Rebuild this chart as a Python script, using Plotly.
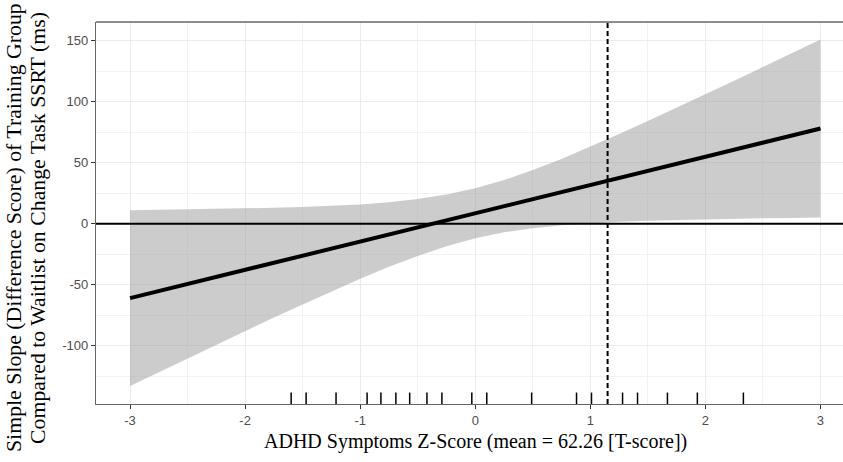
import plotly.graph_objects as go

# ---- data ----
x_grid = [-3.0, -2.75, -2.5, -2.25, -2.0, -1.75, -1.5, -1.25, -1.0, -0.75, -0.5, -0.25,
          0.0, 0.25, 0.5, 0.75, 1.0, 1.25, 1.5, 1.75, 2.0, 2.25, 2.5, 2.75, 3.0]
slope_est = [-61.0, -55.2, -49.4, -43.6, -37.8, -32.0, -26.3, -20.5, -14.7, -8.9, -3.1, 2.7,
             8.5, 14.3, 20.1, 25.9, 31.7, 37.5, 43.3, 49.0, 54.8, 60.6, 66.4, 72.2, 78.0]
ci_upper = [11.0, 11.3, 11.6, 12.0, 12.4, 13.0, 13.6, 14.6, 15.8, 17.6, 20.2, 23.9,
            29.0, 35.7, 43.9, 53.1, 63.0, 73.4, 84.1, 94.9, 106.0, 117.1, 128.4, 139.7, 151.0]
ci_lower = [-133.0, -121.7, -110.4, -99.2, -88.0, -77.0, -66.2, -55.6, -45.2, -35.4, -26.4, -18.5,
            -12.0, -7.1, -3.7, -1.3, 0.4, 1.6, 2.5, 3.1, 3.6, 4.1, 4.4, 4.7, 5.0]
rug_x = [-1.60, -1.47, -1.21, -0.94, -0.82, -0.69, -0.57, -0.42, -0.29, -0.03, 0.10,
         0.49, 0.88, 1.01, 1.28, 1.41, 1.67, 1.93, 2.33]
jn_point = 1.15
x_ticks = [-3, -2, -1, 0, 1, 2, 3]
x_tick_labels = ["-3", "-2", "-1", "0", "1", "2", "3"]
y_ticks = [-100, -50, 0, 50, 100, 150]
y_tick_labels = ["-100", "-50", "0", "50", "100", "150"]
x_title = "ADHD Symptoms Z-Score (mean = 62.26 [T-score])"
y_title_1 = "Simple Slope (Difference Score) of Training Group"
y_title_2 = "Compared to Waitlist on Change Task SSRT (ms)"

fig = go.Figure()

# confidence band
fig.add_trace(go.Scatter(x=x_grid, y=ci_upper, mode="lines", line=dict(width=0),
                         showlegend=False, hoverinfo="skip"))
fig.add_trace(go.Scatter(x=x_grid, y=ci_lower, mode="lines", line=dict(width=0),
                         fill="tonexty", fillcolor="rgba(153,153,153,0.5)",
                         showlegend=False, hoverinfo="skip"))

shapes = []
# top panel border
shapes.append(dict(type="line", xref="paper", yref="paper", x0=0, x1=1, y0=1, y1=1,
                   line=dict(color="#666666", width=1.3)))
# zero line
shapes.append(dict(type="line", xref="paper", yref="y", x0=0, x1=1, y0=0, y1=0,
                   line=dict(color="black", width=2)))
# Johnson-Neyman dashed line
shapes.append(dict(type="line", xref="x", yref="paper", x0=jn_point, x1=jn_point, y0=0, y1=1,
                   line=dict(color="black", width=2, dash="5px,3px")))
# rug
for rx in rug_x:
    shapes.append(dict(type="line", xref="x", yref="paper", x0=rx, x1=rx, y0=0, y1=0.03,
                       line=dict(color="black", width=1.5)))

# simple slope line
fig.add_trace(go.Scatter(x=x_grid, y=slope_est, mode="lines",
                         line=dict(color="black", width=4), showlegend=False))

# figure slightly wider than the window: the right panel edge is cropped as in the reference
W, H = 855, 462
L, R, T, B = 96, 0, 22, 58
pw = W - L - R
ph = H - T - B

def px_x(p):
    return (p - L) / pw

def px_y(p):
    return (H - B - p) / ph

annotations = [
    dict(text=x_title, xref="x", yref="paper", x=0.0, y=px_y(441), showarrow=False,
         xanchor="center", yanchor="middle",
         font=dict(family="Liberation Serif", size=20, color="black")),
    dict(text=y_title_1, xref="paper", yref="paper", x=px_x(14), y=px_y(228), showarrow=False,
         textangle=-90, xanchor="center", yanchor="middle",
         font=dict(family="Liberation Serif", size=21.8, color="black")),
    dict(text=y_title_2, xref="paper", yref="paper", x=px_x(38), y=px_y(228), showarrow=False,
         textangle=-90, xanchor="center", yanchor="middle",
         font=dict(family="Liberation Serif", size=21.8, color="black")),
]

fig.update_layout(
    width=W, height=H, autosize=False,
    margin=dict(l=L, r=R, t=T, b=B, pad=0),
    paper_bgcolor="white", plot_bgcolor="white",
    shapes=shapes, annotations=annotations,
    showlegend=False,
    font=dict(family="Liberation Sans", size=13, color="#4d4d4d"),
)
fig.update_xaxes(
    range=[-3.296, 3.3], tickvals=x_ticks, ticktext=x_tick_labels,
    showgrid=True, gridcolor="#ebebeb", gridwidth=1.1,
    minor=dict(dtick=0.5, tick0=-2.5, showgrid=True, gridcolor="#f2f2f2", gridwidth=0.6),
    showline=True, mirror=False, linecolor="#666666", linewidth=1.3,
    ticks="outside", ticklen=4, tickwidth=1.1, tickcolor="#333333",
    zeroline=False, tickfont=dict(size=13, color="#4d4d4d"),
)
fig.update_yaxes(
    range=[-147.8, 165.3], tickvals=y_ticks, ticktext=y_tick_labels,
    showgrid=True, gridcolor="#ebebeb", gridwidth=1.1,
    minor=dict(dtick=25, tick0=-125, showgrid=True, gridcolor="#f2f2f2", gridwidth=0.6),
    showline=True, mirror=False, linecolor="#666666", linewidth=1.3,
    ticks="outside", ticklen=4, tickwidth=1.1, tickcolor="#333333",
    zeroline=False, tickfont=dict(size=13, color="#4d4d4d"),
)

post_js = ("document.body.style.margin='0';document.body.style.padding='0';"
           "document.body.style.overflow='hidden';"
           "document.documentElement.style.overflow='hidden';")

fig.write_html("out.html", post_script=post_js,
               config={"displayModeBar": False, "responsive": False})
